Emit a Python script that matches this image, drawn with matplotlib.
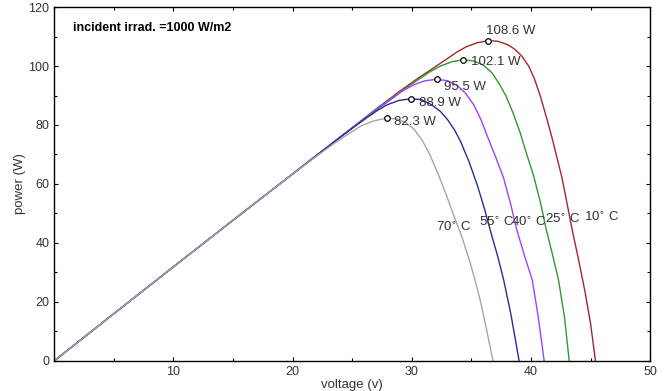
import matplotlib.pyplot as plt
from matplotlib.ticker import MultipleLocator

plt.rcParams['font.family'] = ['Liberation Sans', 'DejaVu Sans']

# Напруга (В) та потужність (Вт) для кожної температури
v_10 = [0, 5, 10, 15, 20, 24, 27, 29, 30.5, 31.8, 32.9, 33.8, 34.6, 35.5, 36.4, 37.2, 38.0, 38.6,
        39.2, 39.8, 40.3, 40.8, 41.3, 41.8, 42.6, 43.4, 44.0, 44.5, 45.0, 45.4]
p_10 = [0, 16.0, 31.9, 47.7, 63.4, 75.9, 85.4, 91.5, 95.8, 99.3, 102.3, 104.8, 106.6, 107.9, 108.6, 108.4, 107.3, 105.8,
        103.5, 100.0, 95.5, 89.5, 82.5, 75.0, 62.0, 45.5, 34.0, 24.0, 12.5, 0]

v_25 = [0, 5, 10, 15, 20, 24, 27, 28.8, 30.4, 31.5, 32.4, 33.4, 34.3, 35.2, 36.0, 36.7, 37.3, 37.9,
        38.5, 39.1, 39.6, 40.2, 40.8, 41.25, 41.8, 42.3, 42.8, 43.2]
p_25 = [0, 16.0, 31.9, 47.7, 63.4, 75.9, 85.3, 90.6, 95.0, 98.0, 100.0, 101.5, 102.1, 101.7, 100.3, 97.8, 94.2, 89.8,
        84.0, 77.2, 70.5, 63.0, 53.5, 45.0, 36.0, 27.5, 15.0, 0]

v_40 = [0, 5, 10, 15, 20, 24, 26, 27.2, 28.2, 29.2, 30.2, 31.1, 32.1, 33.0, 33.8, 34.5, 35.2, 35.8,
        36.3, 37.0, 37.7, 38.3, 38.8, 39.5, 40.1, 40.6, 41.1]
p_40 = [0, 16.0, 31.9, 47.7, 63.4, 75.9, 82.0, 85.6, 88.5, 91.5, 93.7, 95.0, 95.5, 95.0, 93.4, 90.8, 86.8, 81.8,
        76.5, 69.5, 62.0, 53.0, 44.5, 35.0, 27.5, 15.0, 0]

v_55 = [0, 5, 10, 15, 20, 24, 25.2, 26.2, 27.1, 27.9, 28.9, 29.9, 30.8, 31.6, 32.4, 33.0, 33.6, 34.1,
        34.8, 35.5, 36.1, 36.6, 37.2, 37.7, 38.3, 39.0]
p_55 = [0, 16.0, 31.9, 47.7, 63.4, 75.9, 79.5, 82.4, 84.9, 86.8, 88.3, 88.9, 88.6, 87.0, 84.6, 81.8, 78.2, 74.3,
        67.5, 59.5, 51.5, 44.0, 35.5, 27.5, 16.0, 0]

v_70 = [0, 5, 10, 15, 20, 22, 23.5, 24.8, 25.8, 26.8, 27.9, 28.8, 29.5, 30.2, 30.9, 31.5, 32.2, 32.9,
        33.5, 34.2, 34.8, 35.3, 35.8, 36.3, 36.8]
p_70 = [0, 16.0, 31.9, 47.7, 63.4, 69.4, 73.8, 77.3, 79.8, 81.4, 82.3, 82.0, 80.8, 78.5, 74.6, 70.0, 63.5, 56.2,
        49.5, 42.0, 34.5, 27.5, 19.5, 10.0, 0]

temps = ['10', '25', '40', '55', '70']
colors = ['#a3282c', '#2e9a2e', '#a040ff', '#2b2b9c', '#a6a6a6']
volts = [v_10, v_25, v_40, v_55, v_70]
powers = [p_10, p_25, p_40, p_55, p_70]

# Підписи температур (ліва межа, центр по вертикалі)
temp_label_pos = [(44.4, 48.8), (41.2, 48.1), (38.3, 47.1), (35.6, 47.1), (32.0, 45.1)]
# Підписи максимальної потужності
peak_label_pos = [(36.2, 112.0), (35.0, 101.5), (32.7, 93.0), (30.6, 87.4), (28.5, 81.1)]

fig = plt.figure(figsize=(6.69, 3.91), dpi=100)
ax = fig.add_axes([0.081, 0.077, 0.891, 0.905])

for t, c, v, p, tpos, ppos in zip(temps, colors, volts, powers, temp_label_pos, peak_label_pos):
    ax.plot(v, p, color=c, linewidth=1.0)
    i = p.index(max(p))
    ax.plot(v[i], p[i], 'o', markersize=4, markerfacecolor='white',
            markeredgecolor='black', markeredgewidth=0.9, zorder=5)
    ax.text(ppos[0], ppos[1], '%.1f W' % p[i], fontsize=9.5, color='#333333',
            ha='left', va='center')
    ax.text(tpos[0], tpos[1], t + r'$^{\circ}$ C', fontsize=9.5, color='#333333',
            ha='left', va='center')

ax.text(1.6, 112.8, 'incident irrad. =1000 W/m2', fontsize=9, fontweight='bold',
        ha='left', va='center')

ax.set_xlim(0, 50)
ax.set_ylim(0, 120)
ax.set_xticks([10, 20, 30, 40, 50])
ax.set_yticks([0, 20, 40, 60, 80, 100, 120])
ax.xaxis.set_minor_locator(MultipleLocator(5))
ax.yaxis.set_minor_locator(MultipleLocator(10))
ax.tick_params(which='both', direction='in', top=True, right=True, labelsize=9,
               labelcolor='#333333', width=0.8)
ax.tick_params(which='major', length=3)
ax.tick_params(which='minor', length=2)
for s in ax.spines.values():
    s.set_linewidth(1.0)

ax.set_xlabel('voltage (v)', fontsize=9.5, color='#333333', labelpad=1)
ax.set_ylabel('power (W)', fontsize=9.5, color='#333333', labelpad=2)

fig.savefig('out.png', dpi=100)
